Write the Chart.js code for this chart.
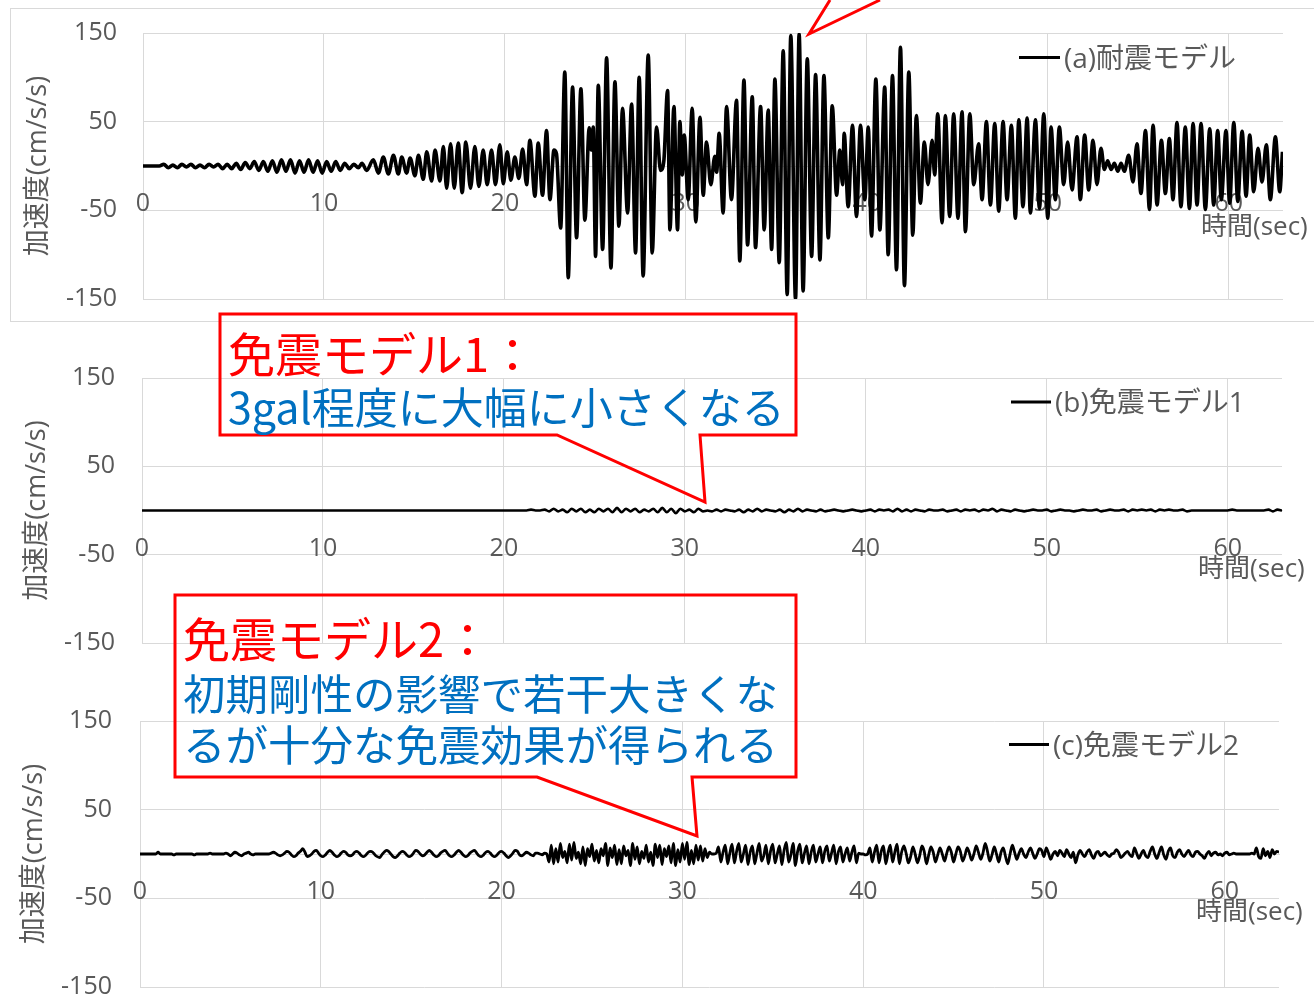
<!DOCTYPE html>
<html lang="ja">
<head>
<meta charset="utf-8">
<title>加速度応答波形の比較</title>
<script src="https://cdn.jsdelivr.net/npm/chart.js@4.4.1/dist/chart.umd.min.js"></script>
<style>
  html, body { margin: 0; padding: 0; background: #fff; }
  #stage { position: relative; width: 1314px; height: 997px; overflow: hidden; }
  #stage canvas { position: absolute; left: 0; }
  #notes { position: absolute; left: 0; top: 0; }
</style>
</head>
<body>
<div id="stage">
  <canvas id="chartA" width="1314" height="322" style="top:0px"></canvas>
  <canvas id="chartB" width="1314" height="340" style="top:322px"></canvas>
  <canvas id="chartC" width="1314" height="335" style="top:662px"></canvas>

  <svg id="notes" width="1314" height="997" xmlns="http://www.w3.org/2000/svg">
    <!-- frame of the upper chart -->
    <rect x="10.5" y="8.5" width="1310" height="313" fill="none" stroke="#d9d9d9" stroke-width="1"/>

    <!-- legends and time-axis titles -->
    <g font-family="'Open Sans','Noto Sans CJK JP',sans-serif" fill="#595959">
      <line x1="1019" y1="57.5" x2="1060" y2="57.5" stroke="#000" stroke-width="3"/>
      <text x="1064" y="57" font-size="28" dominant-baseline="central">(a)耐震モデル</text>
      <line x1="1011" y1="402" x2="1051" y2="402" stroke="#000" stroke-width="3"/>
      <text x="1055" y="401" font-size="28" dominant-baseline="central">(b)免震モデル1</text>
      <line x1="1009" y1="744.5" x2="1049" y2="744.5" stroke="#000" stroke-width="3"/>
      <text x="1053" y="744" font-size="28" dominant-baseline="central">(c)免震モデル2</text>

      <text x="1201" y="225" font-size="26" dominant-baseline="central">時間(sec)</text>
      <text x="1198" y="567" font-size="26" dominant-baseline="central">時間(sec)</text>
      <text x="1196" y="910" font-size="26" dominant-baseline="central">時間(sec)</text>
    </g>

    <!-- callouts -->
    <g fill="none" stroke="#ff0000" stroke-width="3" stroke-linejoin="miter">
      <polyline points="830,0 809,34 880,0"/>
      <path d="M220,314 H796 V435 H700 L705,502 L557,435 H220 Z"/>
      <path d="M175,595 H796 V777 H692 L697,836 L537,777 H175 Z"/>
    </g>
    <g font-family="'Noto Sans CJK JP',sans-serif">
      <text x="228" y="351" font-size="47" fill="#ff0000" dominant-baseline="central">免震モデル1：</text>
      <text x="228" y="405" font-size="43" fill="#0070c0" dominant-baseline="central">3gal程度に大幅に小さくなる</text>
      <text x="183" y="636" font-size="47" fill="#ff0000" dominant-baseline="central">免震モデル2：</text>
      <text x="183" y="691" font-size="42.5" fill="#0070c0" dominant-baseline="central">初期剛性の影響で若干大きくな</text>
      <text x="183" y="742" font-size="42.5" fill="#0070c0" dominant-baseline="central">るが十分な免震効果が得られる</text>
    </g>
  </svg>
</div>

<script>
// ---- (a) 耐震モデル: peak-to-peak trace, time (s) and acceleration (cm/s/s)
const timeA = [
  0, 0.9, 1.15, 1.4, 1.65, 1.9, 2.15, 2.4, 2.65, 2.9, 3.15, 3.4, 3.65, 3.9, 4.15, 4.4, 4.65, 4.9,
  5.15, 5.4, 5.65, 5.9, 6.15, 6.4, 6.65, 6.9, 7.15, 7.4, 7.65, 7.9, 8.15, 8.4, 8.65, 8.9, 9.15, 9.4,
  9.65, 9.9, 10.15, 10.4, 10.65, 10.9, 11.15, 11.4, 11.65, 11.9, 12.1, 12.36,
  12.73, 13.01, 13.28, 13.56, 13.84, 14.11, 14.30, 14.57, 14.76, 15.03, 15.22, 15.49, 15.68, 15.95, 16.14, 16.41, 16.60, 16.78,
  17.0, 17.2, 17.42, 17.64, 17.84, 18.10, 18.34, 18.56, 18.80, 19.02, 19.26, 19.48, 19.72, 19.91,
  20.13, 20.33, 20.55, 20.77, 20.98, 21.20, 21.38, 21.66, 21.84, 22.08, 22.30, 22.49, 22.71, 22.85,
  23.08, 23.31, 23.50, 23.74, 23.96, 24.20, 24.42, 24.66, 24.77, 24.88,
  25.01, 25.16, 25.40, 25.62, 25.86, 26.08, 26.30, 26.50, 26.78, 27.00,
  27.22, 27.42, 27.64, 27.92, 28.14, 28.38, 28.60, 28.78, 28.99, 29.12,
  29.34, 29.54, 29.67, 29.80, 29.91, 30.13, 30.35, 30.55, 30.78, 30.96,
  31.14, 31.38, 31.60, 31.70, 31.84, 32.06, 32.25, 32.52, 32.80, 32.98,
  33.21, 33.41, 33.67, 33.85, 34.13, 34.33, 34.55, 34.74, 34.92, 35.16,
  35.38, 35.60, 35.80, 36.06, 36.26, 36.48, 36.71, 36.95, 37.17, 37.41,
  37.63, 37.87, 38.09, 38.33, 38.51, 38.66, 38.75, 38.97, 39.21, 39.43,
  39.65, 39.89, 40.08, 40.26, 40.50, 40.72, 40.99, 41.18, 41.42, 41.64,
  41.86, 42.08, 42.32, 42.54, 42.74, 42.96, 43.18, 43.38, 43.61, 43.75,
  43.92, 44.16, 44.34, 44.58, 44.80, 45.04, 45.26, 45.45, 45.69, 45.91,
  46.18, 46.37, 46.61, 46.83, 47.07, 47.29, 47.53, 47.75, 47.99, 48.21,
  48.40, 48.63, 48.86, 49.04, 49.32, 49.54, 49.78, 50.00, 50.18, 50.42,
  50.64, 50.88, 51.10, 51.34, 51.62, 51.80, 52.04, 52.26, 52.50, 52.72,
  52.94, 53.13, 53.31, 53.50, 53.68, 53.87, 54.05, 54.23, 54.47, 54.71,
  54.93, 55.15, 55.40, 55.62, 55.82, 56.04, 56.28, 56.50, 56.72, 56.92,
  57.14, 57.36, 57.60, 57.83, 58.03, 58.25, 58.47, 58.71, 58.95, 59.17,
  59.39, 59.59, 59.85, 60.05, 60.28, 60.50, 60.74, 60.96, 61.16, 61.38,
  61.62, 61.84, 62.08, 62.30, 62.58, 62.82, 62.97
];
const accA = [
  0, 0, 2, -2, 1, -2, 2, -1, 2, -2, 1, -2, 2, -1, 2, -3, 2, -3,
  3, -4, 4, -3, 5, -5, 5, -6, 6, -7, 7, -6, 7, -8, 6, -7, 7, -7,
  6, -8, 5, -6, 5, -5, 3, -3, 2, -2, 3, -5,
  7, -8, 10, -9, 12, -9, 10, -8, 9, -11, 12, -15, 16, -17, 18, -17, 22, -25,
  25, -25, 26, -30, 27, -25, 22, -23, 18, -21, 18, -21, 24, -20,
  16, -16, 10, -14, 19, -21, 29, -34, 26, -33, 40, -38, 18, 14,
  -70, 106, -126, 89, -81, 87, -61, 43, 18, 44,
  -102, 91, -94, 122, -115, 95, -68, 65, -53, 70,
  -98, 100, -124, 125, -98, 44, -5, 5, 85, -72,
  67, -72, 50, -10, 35, -38, 65, -63, 55, -33,
  27, -21, 11, -7, 37, -53, 67, -38, 74, -107,
  97, -89, 78, -92, 67, -72, 63, -94, 98, -109,
  130, -145, 147, -150, 149, -141, 121, -102, 103, -106,
  102, -81, 68, -33, 18, -21, 37, -46, 46, -57,
  46, -38, 44, -79, 98, -72, 89, -100, 102, -117,
  134, -135, 106, -78, 57, -42, 27, -21, 29, -10,
  59, -64, 57, -57, 59, -59, 61, -74, 59, -21,
  25, -38, 50, -44, 48, -51, 50, -38, 46, -59,
  52, -46, 54, -53, 52, -48, 59, -59, 44, -38,
  44, -21, 27, -27, 33, -38, 35, -27, 29, -21,
  20, -4, 6, -4, 3, -6, 3, -6, 12, -18,
  25, -31, 40, -49, 46, -44, 29, -31, 31, -38,
  49, -46, 44, -48, 48, -44, 48, -49, 42, -44,
  40, -38, 40, -42, 49, -40, 39, -34, 35, -29,
  20, -18, 24, -38, 33, -29, 16
];

// ---- (b) 免震モデル1: sampled every 0.25 s from 0 s (groups of 4 = 1 s)
const STEP_B = 0.25;
const accB = [
  0,0,0,0, 0,0,0,0, 0,0,0,0, 0,0,0,0, 0,0,0,0, 0,0,0,0, 0,0,0,0,
  0,0,0,0, 0,0,0,0, 0,0,0,0, 0,0,0,0, 0,0,0,0, 0,0,0,0, 0,0,0,0,
  0,0,0,0, 0,0,0,0, 0,0,0,0, 0,0,0,0, 0,0,0,0, 0,0,0,0, 0,0,0,0,
  0,0,1,0, 0,1,-1,2, -1,1,-2,2, -1,2,-2,1, -2,2,-1,2, -2,3,-2,2, -1,2,-2,1,
  -1,2,-2,3, -2,2,-3,2, -1,1,-2,2, -1,0,-1,1, -1,1,0,-1, 1,-2,1,-1, 2,-1,1,0,
  -1,1,-2,1, -1,2,-1,1, 0,-1,1,-1, 0,1,0,-1, 0,1,0,-1, 0,1,-1,1, 0,1,-1,2,
  -1,1,-1,1, 0,-1,1,0, 0,1,-1,0, 1,-1,1,0, 1,-1,1,0, 2,-1,1,0, -1,1,0,-1,
  0,1,0,0, 1,-1,0,1, 0,0,-1,0, 1,0,0,1, -1,0,1,0, 0,1,-1,1, 0,1,0,1,
  -1,1,0,1, 0,0,1,-1, 0,0,0,0, 0,0,0,0, 0,1,0,0, 0,0,0,0, 0,1,-1,1,
  0
];

// ---- (c) 免震モデル2: sampled every 0.125 s from 0 s (one row = 1 s)
const STEP_C = 0.125;
const accC = [
  0,0,0,0,0,0,0,0,
  2,0,0,0,0,0,0,-1,
  0,0,0,0,0,0,0,0,
  -1,0,0,0,0,0,0,1,
  0,0,0,0,0,0,1,0,
  -2,0,2,1,-1,-2,0,1,
  2,0,-1,0,0,0,0,0,
  0,0,1,2,1,-1,-2,-1,
  1,3,2,-1,-3,-2,1,3,
  6,2,-3,-2,0,3,4,1,
  -2,-3,-1,2,4,2,-1,-3,
  -2,1,3,2,-1,-2,-1,2,
  3,1,-2,-3,-1,2,3,2,
  -1,-3,-4,-1,2,4,3,0,
  -3,-4,-2,1,3,2,-1,-3,
  -2,1,4,3,0,-2,-1,2,
  4,2,-1,-3,-2,1,3,4,
  1,-2,-3,-1,2,4,2,-1,
  -3,-2,1,3,4,1,-2,-3,
  -1,2,3,1,-2,-3,-1,2,
  3,1,-2,-4,-2,1,4,3,
  -1,-2,0,2,1,-1,-2,1,
  1,0,-1,1,0,-9,10,-11,
  6,-9,12,-4,3,-10,11,-7,
  13,-5,2,-11,8,-13,6,-3,
  11,-8,4,-10,6,-2,12,-13,
  7,-4,10,-12,5,-11,9,-2,
  4,-13,12,-6,8,-11,3,-5,
  10,-9,2,-13,11,-4,10,-12,
  6,-3,9,-10,12,-13,5,-9,
  12,-6,13,-12,4,-11,10,-7,
  9,-8,6,-4,2,0,0,1,
  8,-9,2,10,-11,1,11,-10,
  3,12,-9,0,10,-12,2,9,
  -11,1,12,-8,-2,10,-11,3,
  11,-10,0,9,-12,4,13,-9,
  -1,12,-13,3,11,-10,1,9,
  -11,2,10,-9,0,8,-10,3,
  9,-8,1,10,-11,2,8,-9,
  0,7,-8,2,9,-10,1,0,
  0,-1,0,7,-9,2,10,-10,
  3,9,-11,1,10,-9,2,11,
  -11,2,9,1,-10,-3,8,0,
  -10,-2,9,3,-11,-1,8,2,
  -9,-1,7,0,-8,1,8,2,
  -9,0,8,3,-8,-2,7,1,
  -7,0,9,2,-6,1,12,3,
  -8,-1,8,0,-9,2,7,-3,
  -11,0,10,2,-6,1,6,0,
  -4,2,7,1,-5,0,6,4,
  -3,7,1,-6,0,3,-2,4,
  1,-3,5,0,-4,2,-10,-1,
  4,0,-3,2,5,-1,-5,1,
  3,-2,0,2,-1,-3,0,1,
  5,2,-4,-2,1,3,-1,-3,
  7,1,-5,0,4,-2,-4,3,
  8,0,-5,2,8,-1,-6,3,
  7,-2,-4,2,5,0,-3,1,
  4,-1,-3,2,3,0,-2,-5,
  0,3,-2,1,2,-1,0,-2,
  1,2,-1,0,1,0,0,0,
  0,0,0,0,1,0,7,-3,
  -5,6,-2,3,-4,5,0,3,
  2
];

// ---- axis settings shared by the three panels
const TIME_MAX = 63;
const TIME_STEP = 10;
const ACC_MIN = -150, ACC_MAX = 150, ACC_STEP = 100;
const Y_TITLE = '加速度(cm/s/s)';

const FONT_FAMILY = "'Open Sans', 'Noto Sans CJK JP', sans-serif";
const TEXT_GRAY = '#595959';
const GRID_GRAY = '#d9d9d9';

const pointsA = timeA.map((t, i) => ({ x: t, y: accA[i] }));
const pointsB = accB.map((v, i) => ({ x: i * STEP_B, y: v }));
const pointsC = accC.map((v, i) => ({ x: i * STEP_C, y: v }));

function drawPanel(id, points, lay) {
  const canvas = document.getElementById(id);
  const chart = new Chart(canvas, {
    type: 'line',
    data: {
      datasets: [{
        data: points,
        borderColor: '#000',
        borderWidth: lay.lineWidth,
        pointRadius: 0,
        cubicInterpolationMode: 'monotone',
        fill: false
      }]
    },
    options: {
      responsive: false,
      maintainAspectRatio: false,
      animation: false,
      devicePixelRatio: 1,
      events: [],
      layout: { padding: { left: 0, right: lay.padRight, top: 20, bottom: 20 } },
      plugins: { legend: { display: false }, tooltip: { enabled: false }, title: { display: false } },
      scales: {
        x: {
          type: 'linear',
          min: 0,
          max: TIME_MAX,
          position: { y: 0 },
          grid: { color: GRID_GRAY, lineWidth: 1, drawTicks: false },
          border: { color: GRID_GRAY, width: 1 },
          ticks: {
            stepSize: TIME_STEP,
            includeBounds: false,
            autoSkip: false,
            maxRotation: 0,
            padding: 23,
            color: TEXT_GRAY,
            font: { family: FONT_FAMILY, size: 25 }
          }
        },
        y: {
          min: ACC_MIN,
          max: ACC_MAX,
          grid: { color: GRID_GRAY, lineWidth: 1, drawTicks: false },
          border: { display: false },
          ticks: {
            stepSize: ACC_STEP,
            padding: lay.tickPad,
            color: TEXT_GRAY,
            font: { family: FONT_FAMILY, size: 25 }
          },
          title: {
            display: true,
            text: Y_TITLE,
            color: TEXT_GRAY,
            font: { family: FONT_FAMILY, size: 27 },
            padding: { top: lay.titlePad, bottom: 0 }
          },
          afterFit(scale) { scale.width = lay.axisWidth; }
        }
      }
    }
  });

  // size the canvas so the plot area spans exactly lay.top..lay.bottom, then place it
  for (let k = 0; k < 4; k++) {
    const a = chart.chartArea;
    const dh = (lay.bottom - lay.top) - (a.bottom - a.top);
    if (Math.abs(dh) < 0.5) break;
    chart.resize(canvas.width, Math.round(canvas.height + dh));
  }
  canvas.style.top = Math.round(lay.top - chart.chartArea.top) + 'px';
  return chart;
}

drawPanel('chartA', pointsA, { top: 33, bottom: 299, axisWidth: 143, padRight: 31, tickPad: 26, titlePad: 22, lineWidth: 3.6 });
drawPanel('chartB', pointsB, { top: 378, bottom: 643, axisWidth: 142, padRight: 32, tickPad: 27, titlePad: 21, lineWidth: 2.6 });
drawPanel('chartC', pointsC, { top: 721, bottom: 987, axisWidth: 140, padRight: 35, tickPad: 28, titlePad: 18, lineWidth: 2.8 });
</script>
</body>
</html>
